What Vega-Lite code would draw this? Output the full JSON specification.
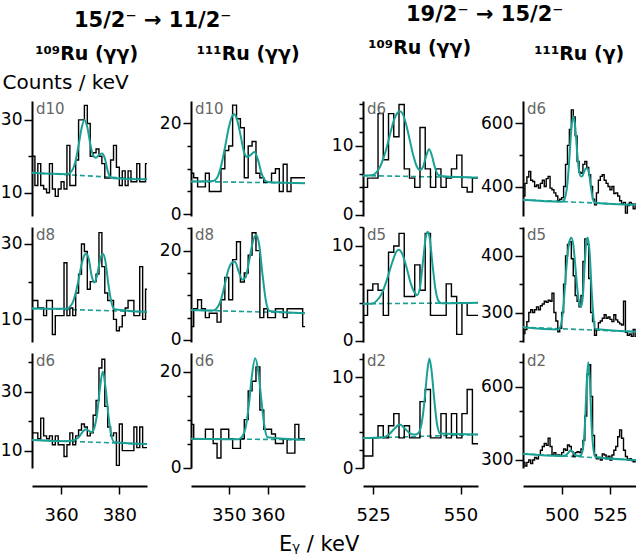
{
"$schema":"https://vega.github.io/schema/vega-lite/v6.json",
"padding":{"left":0,"top":4,"right":0,"bottom":2},
"config":{"font":"DejaVu Sans","view":{"stroke":null},
"axis":{"domainColor":"#000","domainWidth":2,"tickColor":"#000","tickWidth":1.5,"labelColor":"#000","labelFontSize":17,"labelFont":"DejaVu Sans","grid":false,"labelPadding":2,"labelOverlap":false},
"title":{"font":"DejaVu Sans","color":"#000"}},
"title":{"text":"Eᵧ / keV","orient":"bottom","anchor":"middle","fontSize":21,"fontWeight":"normal","offset":10},
"resolve":{"scale":{"x":"independent","y":"independent"}},
"spacing":26,
"datasets":{"d":[
{"p":"a1","s":"h","E":350,"v":20},{"p":"a1","s":"h","E":351,"v":12},{"p":"a1","s":"h","E":352,"v":18},{"p":"a1","s":"h","E":353,"v":12},{"p":"a1","s":"h","E":354,"v":11},{"p":"a1","s":"h","E":355,"v":10},{"p":"a1","s":"h","E":356,"v":18},{"p":"a1","s":"h","E":357,"v":11},{"p":"a1","s":"h","E":358,"v":9},{"p":"a1","s":"h","E":359,"v":11},{"p":"a1","s":"h","E":360,"v":13},{"p":"a1","s":"h","E":361,"v":11},{"p":"a1","s":"h","E":362,"v":23},{"p":"a1","s":"h","E":363,"v":12},{"p":"a1","s":"h","E":364,"v":12},{"p":"a1","s":"h","E":365,"v":19},{"p":"a1","s":"h","E":366,"v":30},{"p":"a1","s":"h","E":367,"v":30},{"p":"a1","s":"h","E":368,"v":34},{"p":"a1","s":"h","E":369,"v":29},{"p":"a1","s":"h","E":370,"v":20},{"p":"a1","s":"h","E":371,"v":21},{"p":"a1","s":"h","E":372,"v":22},{"p":"a1","s":"h","E":373,"v":20},{"p":"a1","s":"h","E":374,"v":18},{"p":"a1","s":"h","E":375,"v":14},{"p":"a1","s":"h","E":376,"v":14},{"p":"a1","s":"h","E":377,"v":19},{"p":"a1","s":"h","E":378,"v":23},{"p":"a1","s":"h","E":379,"v":17},{"p":"a1","s":"h","E":380,"v":12},{"p":"a1","s":"h","E":381,"v":16},{"p":"a1","s":"h","E":382,"v":12},{"p":"a1","s":"h","E":383,"v":16},{"p":"a1","s":"h","E":384,"v":13},{"p":"a1","s":"h","E":385,"v":13},{"p":"a1","s":"h","E":386,"v":18},{"p":"a1","s":"h","E":387,"v":13},{"p":"a1","s":"h","E":388,"v":13},{"p":"a1","s":"h","E":389,"v":18},{"p":"a1","s":"h","E":389.5,"v":18},
{"p":"a1","s":"f","E":350,"v":15.5},{"p":"a1","s":"f","E":362,"v":15.1},{"p":"a1","s":"f","E":363,"v":15.4},{"p":"a1","s":"f","E":364,"v":16.4},{"p":"a1","s":"f","E":365,"v":18.8},{"p":"a1","s":"f","E":366,"v":23},{"p":"a1","s":"f","E":367,"v":27.6},{"p":"a1","s":"f","E":368,"v":30},{"p":"a1","s":"f","E":369,"v":28},{"p":"a1","s":"f","E":370,"v":23.5},{"p":"a1","s":"f","E":371,"v":20.2},{"p":"a1","s":"f","E":372,"v":19.6},{"p":"a1","s":"f","E":373,"v":20.4},{"p":"a1","s":"f","E":374,"v":20.8},{"p":"a1","s":"f","E":375,"v":19.5},{"p":"a1","s":"f","E":376,"v":16},{"p":"a1","s":"f","E":377,"v":14.2},{"p":"a1","s":"f","E":378,"v":14},{"p":"a1","s":"f","E":389.5,"v":13.7},
{"p":"a1","s":"b","E":350,"v":15.5},{"p":"a1","s":"b","E":389.5,"v":13.7},
{"p":"a1","s":"l","E":350,"v":35.2,"t":"d10"},
{"p":"a2","s":"h","E":350,"v":15},{"p":"a2","s":"h","E":351,"v":15},{"p":"a2","s":"h","E":352,"v":13},{"p":"a2","s":"h","E":353,"v":13},{"p":"a2","s":"h","E":354,"v":11},{"p":"a2","s":"h","E":355,"v":15},{"p":"a2","s":"h","E":356,"v":15},{"p":"a2","s":"h","E":357,"v":6},{"p":"a2","s":"h","E":358,"v":11},{"p":"a2","s":"h","E":359,"v":11},{"p":"a2","s":"h","E":360,"v":11},{"p":"a2","s":"h","E":361,"v":25},{"p":"a2","s":"h","E":362,"v":11},{"p":"a2","s":"h","E":363,"v":13},{"p":"a2","s":"h","E":364,"v":11},{"p":"a2","s":"h","E":365,"v":17},{"p":"a2","s":"h","E":366,"v":22},{"p":"a2","s":"h","E":367,"v":30},{"p":"a2","s":"h","E":368,"v":28},{"p":"a2","s":"h","E":369,"v":18},{"p":"a2","s":"h","E":370,"v":20},{"p":"a2","s":"h","E":371,"v":20},{"p":"a2","s":"h","E":372,"v":22},{"p":"a2","s":"h","E":373,"v":33},{"p":"a2","s":"h","E":374,"v":24},{"p":"a2","s":"h","E":375,"v":17},{"p":"a2","s":"h","E":376,"v":15},{"p":"a2","s":"h","E":377,"v":15},{"p":"a2","s":"h","E":378,"v":10},{"p":"a2","s":"h","E":379,"v":7},{"p":"a2","s":"h","E":380,"v":8},{"p":"a2","s":"h","E":381,"v":11},{"p":"a2","s":"h","E":382,"v":13},{"p":"a2","s":"h","E":383,"v":15},{"p":"a2","s":"h","E":384,"v":15},{"p":"a2","s":"h","E":385,"v":11},{"p":"a2","s":"h","E":386,"v":11},{"p":"a2","s":"h","E":387,"v":24},{"p":"a2","s":"h","E":388,"v":10},{"p":"a2","s":"h","E":389,"v":18},{"p":"a2","s":"h","E":389.5,"v":18},
{"p":"a2","s":"f","E":350,"v":12.9},{"p":"a2","s":"f","E":362,"v":12.8},{"p":"a2","s":"f","E":363,"v":13.3},{"p":"a2","s":"f","E":364,"v":14.5},{"p":"a2","s":"f","E":365,"v":17},{"p":"a2","s":"f","E":366,"v":20.5},{"p":"a2","s":"f","E":367,"v":24.5},{"p":"a2","s":"f","E":368,"v":27},{"p":"a2","s":"f","E":368.7,"v":27.5},{"p":"a2","s":"f","E":369.5,"v":26},{"p":"a2","s":"f","E":370.5,"v":21.5},{"p":"a2","s":"f","E":371.4,"v":19.8},{"p":"a2","s":"f","E":372.3,"v":21.5},{"p":"a2","s":"f","E":373.3,"v":25.5},{"p":"a2","s":"f","E":374.3,"v":27.5},{"p":"a2","s":"f","E":375.2,"v":25.5},{"p":"a2","s":"f","E":376.2,"v":19.5},{"p":"a2","s":"f","E":377.2,"v":14.8},{"p":"a2","s":"f","E":378.3,"v":12.7},{"p":"a2","s":"f","E":389.5,"v":12},
{"p":"a2","s":"b","E":350,"v":12.9},{"p":"a2","s":"b","E":389.5,"v":12},
{"p":"a2","s":"l","E":350,"v":34.5,"t":"d8"},
{"p":"a3","s":"h","E":350,"v":16},{"p":"a3","s":"h","E":351,"v":16},{"p":"a3","s":"h","E":352,"v":14},{"p":"a3","s":"h","E":353,"v":21},{"p":"a3","s":"h","E":354,"v":15},{"p":"a3","s":"h","E":355,"v":14},{"p":"a3","s":"h","E":356,"v":15},{"p":"a3","s":"h","E":357,"v":12},{"p":"a3","s":"h","E":358,"v":15},{"p":"a3","s":"h","E":359,"v":12},{"p":"a3","s":"h","E":360,"v":12},{"p":"a3","s":"h","E":361,"v":8},{"p":"a3","s":"h","E":362,"v":12},{"p":"a3","s":"h","E":363,"v":16},{"p":"a3","s":"h","E":364,"v":12},{"p":"a3","s":"h","E":365,"v":15},{"p":"a3","s":"h","E":366,"v":17},{"p":"a3","s":"h","E":367,"v":19},{"p":"a3","s":"h","E":368,"v":18},{"p":"a3","s":"h","E":369,"v":15},{"p":"a3","s":"h","E":370,"v":16},{"p":"a3","s":"h","E":371,"v":22},{"p":"a3","s":"h","E":372,"v":27},{"p":"a3","s":"h","E":373,"v":38},{"p":"a3","s":"h","E":374,"v":41},{"p":"a3","s":"h","E":375,"v":25},{"p":"a3","s":"h","E":376,"v":18},{"p":"a3","s":"h","E":377,"v":15},{"p":"a3","s":"h","E":378,"v":16},{"p":"a3","s":"h","E":379,"v":5},{"p":"a3","s":"h","E":380,"v":19},{"p":"a3","s":"h","E":381,"v":10},{"p":"a3","s":"h","E":382,"v":10},{"p":"a3","s":"h","E":383,"v":10},{"p":"a3","s":"h","E":384,"v":10},{"p":"a3","s":"h","E":385,"v":18},{"p":"a3","s":"h","E":386,"v":11},{"p":"a3","s":"h","E":387,"v":18},{"p":"a3","s":"h","E":388,"v":11},{"p":"a3","s":"h","E":389,"v":11},{"p":"a3","s":"h","E":389.5,"v":11},
{"p":"a3","s":"f","E":350,"v":13.6},{"p":"a3","s":"f","E":362,"v":13.2},{"p":"a3","s":"f","E":364,"v":13.4},{"p":"a3","s":"f","E":366,"v":14.5},{"p":"a3","s":"f","E":367.5,"v":16.5},{"p":"a3","s":"f","E":368.6,"v":17.2},{"p":"a3","s":"f","E":369.6,"v":16.7},{"p":"a3","s":"f","E":370.6,"v":16.3},{"p":"a3","s":"f","E":371.5,"v":18},{"p":"a3","s":"f","E":372.3,"v":22},{"p":"a3","s":"f","E":373.2,"v":30},{"p":"a3","s":"f","E":374.3,"v":36.8},{"p":"a3","s":"f","E":375.3,"v":31},{"p":"a3","s":"f","E":376.3,"v":21.5},{"p":"a3","s":"f","E":377.3,"v":15},{"p":"a3","s":"f","E":378.3,"v":12.8},{"p":"a3","s":"f","E":389.5,"v":12.2},
{"p":"a3","s":"b","E":350,"v":13.6},{"p":"a3","s":"b","E":389.5,"v":12.2},
{"p":"a3","s":"l","E":350,"v":43.1,"t":"d6"},
{"p":"b1","s":"h","E":340,"v":9},{"p":"b1","s":"h","E":341,"v":8},{"p":"b1","s":"h","E":342,"v":6},{"p":"b1","s":"h","E":343,"v":6},{"p":"b1","s":"h","E":344,"v":9},{"p":"b1","s":"h","E":345,"v":5},{"p":"b1","s":"h","E":346,"v":5},{"p":"b1","s":"h","E":347,"v":5},{"p":"b1","s":"h","E":348,"v":10},{"p":"b1","s":"h","E":349,"v":14},{"p":"b1","s":"h","E":350,"v":15},{"p":"b1","s":"h","E":351,"v":24},{"p":"b1","s":"h","E":352,"v":21},{"p":"b1","s":"h","E":353,"v":19},{"p":"b1","s":"h","E":354,"v":8},{"p":"b1","s":"h","E":355,"v":15},{"p":"b1","s":"h","E":356,"v":16},{"p":"b1","s":"h","E":357,"v":9},{"p":"b1","s":"h","E":358,"v":8},{"p":"b1","s":"h","E":359,"v":7},{"p":"b1","s":"h","E":360,"v":7},{"p":"b1","s":"h","E":361,"v":9},{"p":"b1","s":"h","E":362,"v":10},{"p":"b1","s":"h","E":363,"v":5},{"p":"b1","s":"h","E":364,"v":11},{"p":"b1","s":"h","E":365,"v":5},{"p":"b1","s":"h","E":366,"v":8},{"p":"b1","s":"h","E":367,"v":8},{"p":"b1","s":"h","E":368,"v":8},{"p":"b1","s":"h","E":369,"v":8},{"p":"b1","s":"h","E":369.6,"v":8},
{"p":"b1","s":"f","E":340.3,"v":7.2},{"p":"b1","s":"f","E":346,"v":7.3},{"p":"b1","s":"f","E":347,"v":8},{"p":"b1","s":"f","E":348,"v":10.5},{"p":"b1","s":"f","E":349,"v":14.5},{"p":"b1","s":"f","E":350,"v":19},{"p":"b1","s":"f","E":351,"v":21.8},{"p":"b1","s":"f","E":351.4,"v":22},{"p":"b1","s":"f","E":352,"v":21.2},{"p":"b1","s":"f","E":353,"v":17.5},{"p":"b1","s":"f","E":354,"v":13.5},{"p":"b1","s":"f","E":354.7,"v":12.6},{"p":"b1","s":"f","E":355.6,"v":13},{"p":"b1","s":"f","E":356.6,"v":13.7},{"p":"b1","s":"f","E":357.5,"v":12},{"p":"b1","s":"f","E":358.5,"v":8.8},{"p":"b1","s":"f","E":359.5,"v":7.3},{"p":"b1","s":"f","E":360.5,"v":7},{"p":"b1","s":"f","E":369.6,"v":6.8},
{"p":"b1","s":"b","E":340.3,"v":7.2},{"p":"b1","s":"b","E":369.6,"v":6.8},
{"p":"b1","s":"l","E":340.3,"v":24.9,"t":"d10"},
{"p":"b2","s":"h","E":340,"v":3},{"p":"b2","s":"h","E":341,"v":7},{"p":"b2","s":"h","E":342,"v":9},{"p":"b2","s":"h","E":343,"v":7},{"p":"b2","s":"h","E":344,"v":5},{"p":"b2","s":"h","E":345,"v":6},{"p":"b2","s":"h","E":346,"v":6},{"p":"b2","s":"h","E":347,"v":4},{"p":"b2","s":"h","E":348,"v":9},{"p":"b2","s":"h","E":349,"v":14},{"p":"b2","s":"h","E":350,"v":9},{"p":"b2","s":"h","E":351,"v":18},{"p":"b2","s":"h","E":352,"v":22},{"p":"b2","s":"h","E":353,"v":13},{"p":"b2","s":"h","E":354,"v":15},{"p":"b2","s":"h","E":355,"v":19},{"p":"b2","s":"h","E":356,"v":24},{"p":"b2","s":"h","E":357,"v":20},{"p":"b2","s":"h","E":358,"v":5},{"p":"b2","s":"h","E":359,"v":7},{"p":"b2","s":"h","E":360,"v":5},{"p":"b2","s":"h","E":361,"v":5},{"p":"b2","s":"h","E":362,"v":7},{"p":"b2","s":"h","E":363,"v":7},{"p":"b2","s":"h","E":364,"v":5},{"p":"b2","s":"h","E":365,"v":7},{"p":"b2","s":"h","E":366,"v":7},{"p":"b2","s":"h","E":367,"v":7},{"p":"b2","s":"h","E":368,"v":7},{"p":"b2","s":"h","E":369,"v":3},{"p":"b2","s":"h","E":369.6,"v":3},
{"p":"b2","s":"f","E":340.3,"v":6.7},{"p":"b2","s":"f","E":346,"v":6.6},{"p":"b2","s":"f","E":347,"v":7.2},{"p":"b2","s":"f","E":348,"v":9},{"p":"b2","s":"f","E":349,"v":12.5},{"p":"b2","s":"f","E":350,"v":16},{"p":"b2","s":"f","E":351,"v":17.4},{"p":"b2","s":"f","E":351.6,"v":17.5},{"p":"b2","s":"f","E":352.5,"v":15.5},{"p":"b2","s":"f","E":353.5,"v":13.5},{"p":"b2","s":"f","E":354.3,"v":14},{"p":"b2","s":"f","E":355.2,"v":17.5},{"p":"b2","s":"f","E":356.2,"v":22},{"p":"b2","s":"f","E":357,"v":23.5},{"p":"b2","s":"f","E":357.8,"v":21.5},{"p":"b2","s":"f","E":358.7,"v":14.5},{"p":"b2","s":"f","E":359.6,"v":8.5},{"p":"b2","s":"f","E":360.5,"v":6.5},{"p":"b2","s":"f","E":369.6,"v":6},
{"p":"b2","s":"b","E":340.3,"v":6.7},{"p":"b2","s":"b","E":369.6,"v":6},
{"p":"b2","s":"l","E":340.3,"v":25.3,"t":"d8"},
{"p":"b3","s":"h","E":340,"v":9},{"p":"b3","s":"h","E":341,"v":6},{"p":"b3","s":"h","E":342,"v":6},{"p":"b3","s":"h","E":343,"v":6},{"p":"b3","s":"h","E":344,"v":8},{"p":"b3","s":"h","E":345,"v":8},{"p":"b3","s":"h","E":346,"v":5},{"p":"b3","s":"h","E":347,"v":2},{"p":"b3","s":"h","E":348,"v":8},{"p":"b3","s":"h","E":349,"v":8},{"p":"b3","s":"h","E":350,"v":6},{"p":"b3","s":"h","E":351,"v":4},{"p":"b3","s":"h","E":352,"v":4},{"p":"b3","s":"h","E":353,"v":6},{"p":"b3","s":"h","E":354,"v":10},{"p":"b3","s":"h","E":355,"v":16},{"p":"b3","s":"h","E":356,"v":18},{"p":"b3","s":"h","E":357,"v":21},{"p":"b3","s":"h","E":358,"v":12},{"p":"b3","s":"h","E":359,"v":8},{"p":"b3","s":"h","E":360,"v":8},{"p":"b3","s":"h","E":361,"v":7},{"p":"b3","s":"h","E":362,"v":5},{"p":"b3","s":"h","E":363,"v":5},{"p":"b3","s":"h","E":364,"v":6},{"p":"b3","s":"h","E":365,"v":3},{"p":"b3","s":"h","E":366,"v":3},{"p":"b3","s":"h","E":367,"v":9},{"p":"b3","s":"h","E":368,"v":6},{"p":"b3","s":"h","E":369,"v":6},{"p":"b3","s":"h","E":369.6,"v":6},
{"p":"b3","s":"f","E":340.3,"v":6},{"p":"b3","s":"f","E":352.5,"v":5.9},{"p":"b3","s":"f","E":353.5,"v":6.5},{"p":"b3","s":"f","E":354.5,"v":9},{"p":"b3","s":"f","E":355.3,"v":14},{"p":"b3","s":"f","E":356,"v":19.5},{"p":"b3","s":"f","E":356.8,"v":22.8},{"p":"b3","s":"f","E":357.6,"v":20},{"p":"b3","s":"f","E":358.4,"v":14},{"p":"b3","s":"f","E":359.2,"v":8.5},{"p":"b3","s":"f","E":360,"v":6.3},{"p":"b3","s":"f","E":369.6,"v":5.8},
{"p":"b3","s":"b","E":340.3,"v":6},{"p":"b3","s":"b","E":369.6,"v":5.8},
{"p":"b3","s":"l","E":340.3,"v":23.9,"t":"d6"},
{"p":"c1","s":"h","E":521.9,"v":4},{"p":"c1","s":"h","E":523.4,"v":5.33},{"p":"c1","s":"h","E":524.9,"v":5.33},{"p":"c1","s":"h","E":526.4,"v":14.67},{"p":"c1","s":"h","E":527.9,"v":8},{"p":"c1","s":"h","E":529.4,"v":14.67},{"p":"c1","s":"h","E":530.9,"v":11.33},{"p":"c1","s":"h","E":532.4,"v":16},{"p":"c1","s":"h","E":533.9,"v":6.67},{"p":"c1","s":"h","E":535.4,"v":5.33},{"p":"c1","s":"h","E":536.9,"v":4},{"p":"c1","s":"h","E":538.4,"v":12.67},{"p":"c1","s":"h","E":539.9,"v":6.67},{"p":"c1","s":"h","E":541.4,"v":4},{"p":"c1","s":"h","E":542.9,"v":6.67},{"p":"c1","s":"h","E":544.4,"v":4},{"p":"c1","s":"h","E":545.9,"v":5.33},{"p":"c1","s":"h","E":547.4,"v":6.67},{"p":"c1","s":"h","E":548.9,"v":8.67},{"p":"c1","s":"h","E":550.4,"v":4},{"p":"c1","s":"h","E":551.9,"v":3.33},{"p":"c1","s":"h","E":553.4,"v":5.33},{"p":"c1","s":"h","E":555,"v":5.33},
{"p":"c1","s":"f","E":522.1,"v":5.7},{"p":"c1","s":"f","E":525,"v":5.8},{"p":"c1","s":"f","E":526,"v":6.2},{"p":"c1","s":"f","E":527,"v":7},{"p":"c1","s":"f","E":528,"v":8.3},{"p":"c1","s":"f","E":529,"v":10},{"p":"c1","s":"f","E":530,"v":12},{"p":"c1","s":"f","E":531,"v":13.8},{"p":"c1","s":"f","E":532,"v":14.8},{"p":"c1","s":"f","E":532.6,"v":15},{"p":"c1","s":"f","E":533.5,"v":14.6},{"p":"c1","s":"f","E":534.5,"v":13},{"p":"c1","s":"f","E":535.5,"v":10.8},{"p":"c1","s":"f","E":536.5,"v":8.6},{"p":"c1","s":"f","E":537.5,"v":7},{"p":"c1","s":"f","E":538.4,"v":6.5},{"p":"c1","s":"f","E":539.3,"v":7},{"p":"c1","s":"f","E":540.2,"v":8.6},{"p":"c1","s":"f","E":541,"v":9.5},{"p":"c1","s":"f","E":541.8,"v":8.6},{"p":"c1","s":"f","E":542.6,"v":7},{"p":"c1","s":"f","E":543.6,"v":5.8},{"p":"c1","s":"f","E":545,"v":5.6},{"p":"c1","s":"f","E":555,"v":5.4},
{"p":"c1","s":"b","E":522.1,"v":5.7},{"p":"c1","s":"b","E":555,"v":5.4},
{"p":"c1","s":"l","E":522.1,"v":16.5,"t":"d6"},
{"p":"c2","s":"h","E":521.9,"v":2.67},{"p":"c2","s":"h","E":523.4,"v":5.33},{"p":"c2","s":"h","E":524.9,"v":6},{"p":"c2","s":"h","E":526.4,"v":5.33},{"p":"c2","s":"h","E":527.9,"v":2.67},{"p":"c2","s":"h","E":529.4,"v":9.33},{"p":"c2","s":"h","E":530.9,"v":10},{"p":"c2","s":"h","E":532.4,"v":11.33},{"p":"c2","s":"h","E":533.9,"v":4.67},{"p":"c2","s":"h","E":535.4,"v":4.67},{"p":"c2","s":"h","E":536.9,"v":8},{"p":"c2","s":"h","E":538.4,"v":5.33},{"p":"c2","s":"h","E":539.9,"v":11.33},{"p":"c2","s":"h","E":541.4,"v":2.67},{"p":"c2","s":"h","E":542.9,"v":2.67},{"p":"c2","s":"h","E":544.4,"v":2.67},{"p":"c2","s":"h","E":545.9,"v":6},{"p":"c2","s":"h","E":547.4,"v":4.67},{"p":"c2","s":"h","E":548.9,"v":0.67},{"p":"c2","s":"h","E":550.4,"v":4},{"p":"c2","s":"h","E":551.9,"v":2.67},{"p":"c2","s":"h","E":553.4,"v":2.67},{"p":"c2","s":"h","E":555,"v":2.67},
{"p":"c2","s":"f","E":522.1,"v":3.9},{"p":"c2","s":"f","E":524.5,"v":3.9},{"p":"c2","s":"f","E":526,"v":4.2},{"p":"c2","s":"f","E":527.5,"v":5},{"p":"c2","s":"f","E":529,"v":6.5},{"p":"c2","s":"f","E":530.5,"v":8.3},{"p":"c2","s":"f","E":531.5,"v":9.3},{"p":"c2","s":"f","E":532.3,"v":9.6},{"p":"c2","s":"f","E":533.3,"v":9.2},{"p":"c2","s":"f","E":534.5,"v":7.8},{"p":"c2","s":"f","E":535.8,"v":6},{"p":"c2","s":"f","E":537,"v":5},{"p":"c2","s":"f","E":537.6,"v":4.8},{"p":"c2","s":"f","E":538.4,"v":5.6},{"p":"c2","s":"f","E":539.3,"v":8.5},{"p":"c2","s":"f","E":540.1,"v":11},{"p":"c2","s":"f","E":540.6,"v":11.5},{"p":"c2","s":"f","E":541.2,"v":10.8},{"p":"c2","s":"f","E":542,"v":8},{"p":"c2","s":"f","E":542.8,"v":5.5},{"p":"c2","s":"f","E":543.7,"v":4.2},{"p":"c2","s":"f","E":544.6,"v":3.95},{"p":"c2","s":"f","E":555,"v":4},
{"p":"c2","s":"b","E":522.1,"v":3.9},{"p":"c2","s":"b","E":555,"v":4},
{"p":"c2","s":"l","E":522.1,"v":12,"t":"d5"},
{"p":"c3","s":"h","E":521.9,"v":1.33},{"p":"c3","s":"h","E":523.4,"v":1.33},{"p":"c3","s":"h","E":524.9,"v":3.33},{"p":"c3","s":"h","E":526.4,"v":4.67},{"p":"c3","s":"h","E":527.9,"v":3.33},{"p":"c3","s":"h","E":529.4,"v":4.67},{"p":"c3","s":"h","E":530.9,"v":6},{"p":"c3","s":"h","E":532.4,"v":3.33},{"p":"c3","s":"h","E":533.9,"v":4.67},{"p":"c3","s":"h","E":535.4,"v":3.33},{"p":"c3","s":"h","E":536.9,"v":3.33},{"p":"c3","s":"h","E":538.4,"v":7.33},{"p":"c3","s":"h","E":539.9,"v":8.67},{"p":"c3","s":"h","E":541.4,"v":3.33},{"p":"c3","s":"h","E":542.9,"v":3.33},{"p":"c3","s":"h","E":544.4,"v":6},{"p":"c3","s":"h","E":545.9,"v":3.33},{"p":"c3","s":"h","E":547.4,"v":6},{"p":"c3","s":"h","E":548.9,"v":3.33},{"p":"c3","s":"h","E":550.4,"v":6},{"p":"c3","s":"h","E":551.9,"v":8.67},{"p":"c3","s":"h","E":553.4,"v":2.67},{"p":"c3","s":"h","E":555,"v":2.67},
{"p":"c3","s":"f","E":522.1,"v":3.3},{"p":"c3","s":"f","E":528,"v":3.4},{"p":"c3","s":"f","E":529.5,"v":3.7},{"p":"c3","s":"f","E":531,"v":4.3},{"p":"c3","s":"f","E":532.6,"v":4.8},{"p":"c3","s":"f","E":534.2,"v":4.3},{"p":"c3","s":"f","E":535.7,"v":3.8},{"p":"c3","s":"f","E":537.2,"v":3.7},{"p":"c3","s":"f","E":538.2,"v":4},{"p":"c3","s":"f","E":539,"v":5.2},{"p":"c3","s":"f","E":539.8,"v":7.8},{"p":"c3","s":"f","E":540.5,"v":10.7},{"p":"c3","s":"f","E":541.1,"v":12.1},{"p":"c3","s":"f","E":541.7,"v":10.8},{"p":"c3","s":"f","E":542.5,"v":7.5},{"p":"c3","s":"f","E":543.3,"v":4.8},{"p":"c3","s":"f","E":544.2,"v":3.8},{"p":"c3","s":"f","E":555,"v":3.7},
{"p":"c3","s":"b","E":522.1,"v":3.3},{"p":"c3","s":"b","E":555,"v":3.7},
{"p":"c3","s":"l","E":522.1,"v":12.7,"t":"d2"},
{"p":"d1","s":"h","E":480,"v":370},{"p":"d1","s":"h","E":481,"v":410},{"p":"d1","s":"h","E":482,"v":430},{"p":"d1","s":"h","E":483,"v":448},{"p":"d1","s":"h","E":484,"v":420},{"p":"d1","s":"h","E":485,"v":416},{"p":"d1","s":"h","E":486,"v":400},{"p":"d1","s":"h","E":487,"v":405},{"p":"d1","s":"h","E":488,"v":395},{"p":"d1","s":"h","E":489,"v":410},{"p":"d1","s":"h","E":490,"v":420},{"p":"d1","s":"h","E":491,"v":400},{"p":"d1","s":"h","E":492,"v":425},{"p":"d1","s":"h","E":493,"v":432},{"p":"d1","s":"h","E":494,"v":395},{"p":"d1","s":"h","E":495,"v":390},{"p":"d1","s":"h","E":496,"v":380},{"p":"d1","s":"h","E":497,"v":370},{"p":"d1","s":"h","E":498,"v":355},{"p":"d1","s":"h","E":499,"v":360},{"p":"d1","s":"h","E":500,"v":365},{"p":"d1","s":"h","E":501,"v":400},{"p":"d1","s":"h","E":502,"v":470},{"p":"d1","s":"h","E":503,"v":530},{"p":"d1","s":"h","E":504,"v":580},{"p":"d1","s":"h","E":505,"v":642},{"p":"d1","s":"h","E":506,"v":620},{"p":"d1","s":"h","E":507,"v":560},{"p":"d1","s":"h","E":508,"v":479},{"p":"d1","s":"h","E":509,"v":445},{"p":"d1","s":"h","E":510,"v":442},{"p":"d1","s":"h","E":511,"v":470},{"p":"d1","s":"h","E":512,"v":479},{"p":"d1","s":"h","E":513,"v":460},{"p":"d1","s":"h","E":514,"v":437},{"p":"d1","s":"h","E":515,"v":400},{"p":"d1","s":"h","E":516,"v":360},{"p":"d1","s":"h","E":517,"v":342},{"p":"d1","s":"h","E":518,"v":380},{"p":"d1","s":"h","E":519,"v":420},{"p":"d1","s":"h","E":520,"v":432},{"p":"d1","s":"h","E":521,"v":437},{"p":"d1","s":"h","E":522,"v":420},{"p":"d1","s":"h","E":523,"v":410},{"p":"d1","s":"h","E":524,"v":400},{"p":"d1","s":"h","E":525,"v":390},{"p":"d1","s":"h","E":526,"v":400},{"p":"d1","s":"h","E":527,"v":378},{"p":"d1","s":"h","E":528,"v":380},{"p":"d1","s":"h","E":529,"v":370},{"p":"d1","s":"h","E":530,"v":355},{"p":"d1","s":"h","E":531,"v":345},{"p":"d1","s":"h","E":532,"v":350},{"p":"d1","s":"h","E":533,"v":316},{"p":"d1","s":"h","E":534,"v":340},{"p":"d1","s":"h","E":535,"v":350},{"p":"d1","s":"h","E":536,"v":345},{"p":"d1","s":"h","E":537,"v":330},{"p":"d1","s":"h","E":538,"v":345},{"p":"d1","s":"h","E":539,"v":340},{"p":"d1","s":"h","E":539.5,"v":340},
{"p":"d1","s":"f","E":480,"v":358},{"p":"d1","s":"f","E":500,"v":352},{"p":"d1","s":"f","E":501,"v":355},{"p":"d1","s":"f","E":502,"v":370},{"p":"d1","s":"f","E":503,"v":410},{"p":"d1","s":"f","E":504,"v":490},{"p":"d1","s":"f","E":505,"v":580},{"p":"d1","s":"f","E":506,"v":621},{"p":"d1","s":"f","E":507,"v":590},{"p":"d1","s":"f","E":508,"v":510},{"p":"d1","s":"f","E":509,"v":450},{"p":"d1","s":"f","E":510,"v":432},{"p":"d1","s":"f","E":510.7,"v":433},{"p":"d1","s":"f","E":511.5,"v":445},{"p":"d1","s":"f","E":512.5,"v":457},{"p":"d1","s":"f","E":513.3,"v":458},{"p":"d1","s":"f","E":514.2,"v":440},{"p":"d1","s":"f","E":515.2,"v":395},{"p":"d1","s":"f","E":516.2,"v":360},{"p":"d1","s":"f","E":517.2,"v":349},{"p":"d1","s":"f","E":539.5,"v":342},
{"p":"d1","s":"b","E":480,"v":358},{"p":"d1","s":"b","E":539.5,"v":342},
{"p":"d1","s":"l","E":480,"v":670,"t":"d6"},
{"p":"d2","s":"h","E":480,"v":263},{"p":"d2","s":"h","E":481,"v":270},{"p":"d2","s":"h","E":482,"v":284},{"p":"d2","s":"h","E":483,"v":300},{"p":"d2","s":"h","E":484,"v":305},{"p":"d2","s":"h","E":485,"v":300},{"p":"d2","s":"h","E":486,"v":305},{"p":"d2","s":"h","E":487,"v":310},{"p":"d2","s":"h","E":488,"v":305},{"p":"d2","s":"h","E":489,"v":312},{"p":"d2","s":"h","E":490,"v":315},{"p":"d2","s":"h","E":491,"v":320},{"p":"d2","s":"h","E":492,"v":318},{"p":"d2","s":"h","E":493,"v":322},{"p":"d2","s":"h","E":494,"v":320},{"p":"d2","s":"h","E":495,"v":334},{"p":"d2","s":"h","E":496,"v":300},{"p":"d2","s":"h","E":497,"v":285},{"p":"d2","s":"h","E":498,"v":266},{"p":"d2","s":"h","E":499,"v":272},{"p":"d2","s":"h","E":500,"v":300},{"p":"d2","s":"h","E":501,"v":350},{"p":"d2","s":"h","E":502,"v":400},{"p":"d2","s":"h","E":503,"v":420},{"p":"d2","s":"h","E":504,"v":425},{"p":"d2","s":"h","E":505,"v":395},{"p":"d2","s":"h","E":506,"v":365},{"p":"d2","s":"h","E":507,"v":330},{"p":"d2","s":"h","E":508,"v":320},{"p":"d2","s":"h","E":509,"v":310},{"p":"d2","s":"h","E":510,"v":330},{"p":"d2","s":"h","E":511,"v":390},{"p":"d2","s":"h","E":512,"v":430},{"p":"d2","s":"h","E":513,"v":420},{"p":"d2","s":"h","E":514,"v":360},{"p":"d2","s":"h","E":515,"v":300},{"p":"d2","s":"h","E":516,"v":284},{"p":"d2","s":"h","E":517,"v":260},{"p":"d2","s":"h","E":518,"v":270},{"p":"d2","s":"h","E":519,"v":282},{"p":"d2","s":"h","E":520,"v":285},{"p":"d2","s":"h","E":521,"v":290},{"p":"d2","s":"h","E":522,"v":296},{"p":"d2","s":"h","E":523,"v":290},{"p":"d2","s":"h","E":524,"v":292},{"p":"d2","s":"h","E":525,"v":288},{"p":"d2","s":"h","E":526,"v":284},{"p":"d2","s":"h","E":527,"v":296},{"p":"d2","s":"h","E":528,"v":287},{"p":"d2","s":"h","E":529,"v":283},{"p":"d2","s":"h","E":530,"v":280},{"p":"d2","s":"h","E":531,"v":278},{"p":"d2","s":"h","E":532,"v":320},{"p":"d2","s":"h","E":533,"v":265},{"p":"d2","s":"h","E":534,"v":260},{"p":"d2","s":"h","E":535,"v":262},{"p":"d2","s":"h","E":536,"v":258},{"p":"d2","s":"h","E":537,"v":270},{"p":"d2","s":"h","E":538,"v":258},{"p":"d2","s":"h","E":539,"v":262},{"p":"d2","s":"h","E":539.5,"v":262},
{"p":"d2","s":"f","E":480,"v":274},{"p":"d2","s":"f","E":498,"v":270},{"p":"d2","s":"f","E":499,"v":272},{"p":"d2","s":"f","E":500,"v":285},{"p":"d2","s":"f","E":501,"v":315},{"p":"d2","s":"f","E":502,"v":360},{"p":"d2","s":"f","E":503,"v":400},{"p":"d2","s":"f","E":504,"v":425},{"p":"d2","s":"f","E":505,"v":432},{"p":"d2","s":"f","E":506,"v":420},{"p":"d2","s":"f","E":507,"v":385},{"p":"d2","s":"f","E":508,"v":345},{"p":"d2","s":"f","E":509,"v":318},{"p":"d2","s":"f","E":510,"v":310},{"p":"d2","s":"f","E":511,"v":330},{"p":"d2","s":"f","E":512,"v":390},{"p":"d2","s":"f","E":513,"v":430},{"p":"d2","s":"f","E":513.5,"v":432},{"p":"d2","s":"f","E":514.5,"v":405},{"p":"d2","s":"f","E":515.5,"v":340},{"p":"d2","s":"f","E":516.5,"v":290},{"p":"d2","s":"f","E":517.5,"v":271},{"p":"d2","s":"f","E":539.5,"v":266},
{"p":"d2","s":"b","E":480,"v":274},{"p":"d2","s":"b","E":539.5,"v":266},
{"p":"d2","s":"l","E":480,"v":451,"t":"d5"},
{"p":"d3","s":"h","E":480,"v":290},{"p":"d3","s":"h","E":481,"v":275},{"p":"d3","s":"h","E":482,"v":290},{"p":"d3","s":"h","E":483,"v":300},{"p":"d3","s":"h","E":484,"v":285},{"p":"d3","s":"h","E":485,"v":300},{"p":"d3","s":"h","E":486,"v":310},{"p":"d3","s":"h","E":487,"v":305},{"p":"d3","s":"h","E":488,"v":320},{"p":"d3","s":"h","E":489,"v":340},{"p":"d3","s":"h","E":490,"v":355},{"p":"d3","s":"h","E":491,"v":368},{"p":"d3","s":"h","E":492,"v":360},{"p":"d3","s":"h","E":493,"v":389},{"p":"d3","s":"h","E":494,"v":355},{"p":"d3","s":"h","E":495,"v":320},{"p":"d3","s":"h","E":496,"v":330},{"p":"d3","s":"h","E":497,"v":318},{"p":"d3","s":"h","E":498,"v":320},{"p":"d3","s":"h","E":499,"v":318},{"p":"d3","s":"h","E":500,"v":330},{"p":"d3","s":"h","E":501,"v":345},{"p":"d3","s":"h","E":502,"v":340},{"p":"d3","s":"h","E":503,"v":361},{"p":"d3","s":"h","E":504,"v":355},{"p":"d3","s":"h","E":505,"v":334},{"p":"d3","s":"h","E":506,"v":314},{"p":"d3","s":"h","E":507,"v":330},{"p":"d3","s":"h","E":508,"v":334},{"p":"d3","s":"h","E":509,"v":330},{"p":"d3","s":"h","E":510,"v":345},{"p":"d3","s":"h","E":511,"v":380},{"p":"d3","s":"h","E":512,"v":480},{"p":"d3","s":"h","E":513,"v":650},{"p":"d3","s":"h","E":514,"v":690},{"p":"d3","s":"h","E":515,"v":560},{"p":"d3","s":"h","E":516,"v":400},{"p":"d3","s":"h","E":517,"v":320},{"p":"d3","s":"h","E":518,"v":305},{"p":"d3","s":"h","E":519,"v":310},{"p":"d3","s":"h","E":520,"v":300},{"p":"d3","s":"h","E":521,"v":325},{"p":"d3","s":"h","E":522,"v":320},{"p":"d3","s":"h","E":523,"v":305},{"p":"d3","s":"h","E":524,"v":315},{"p":"d3","s":"h","E":525,"v":300},{"p":"d3","s":"h","E":526,"v":320},{"p":"d3","s":"h","E":527,"v":340},{"p":"d3","s":"h","E":528,"v":355},{"p":"d3","s":"h","E":529,"v":395},{"p":"d3","s":"h","E":530,"v":423},{"p":"d3","s":"h","E":531,"v":389},{"p":"d3","s":"h","E":532,"v":340},{"p":"d3","s":"h","E":533,"v":314},{"p":"d3","s":"h","E":534,"v":300},{"p":"d3","s":"h","E":535,"v":305},{"p":"d3","s":"h","E":536,"v":298},{"p":"d3","s":"h","E":537,"v":292},{"p":"d3","s":"h","E":538,"v":300},{"p":"d3","s":"h","E":539,"v":295},{"p":"d3","s":"h","E":539.5,"v":295},
{"p":"d3","s":"f","E":480,"v":325},{"p":"d3","s":"f","E":500,"v":316},{"p":"d3","s":"f","E":502,"v":318},{"p":"d3","s":"f","E":503.5,"v":330},{"p":"d3","s":"f","E":504.7,"v":340},{"p":"d3","s":"f","E":506,"v":330},{"p":"d3","s":"f","E":507.5,"v":318},{"p":"d3","s":"f","E":509,"v":316},{"p":"d3","s":"f","E":510,"v":320},{"p":"d3","s":"f","E":511,"v":345},{"p":"d3","s":"f","E":512,"v":440},{"p":"d3","s":"f","E":513,"v":620},{"p":"d3","s":"f","E":513.8,"v":700},{"p":"d3","s":"f","E":514.6,"v":620},{"p":"d3","s":"f","E":515.5,"v":440},{"p":"d3","s":"f","E":516.5,"v":340},{"p":"d3","s":"f","E":517.5,"v":312},{"p":"d3","s":"f","E":518.5,"v":310},{"p":"d3","s":"f","E":539.5,"v":300},
{"p":"d3","s":"b","E":480,"v":325},{"p":"d3","s":"b","E":539.5,"v":300},
{"p":"d3","s":"l","E":480,"v":738,"t":"d2"}
]},
"hconcat":[
{"title":{"text":"15/2⁻ → 11/2⁻","fontSize":21,"fontWeight":"bold","anchor":"middle","offset":14},
 "spacing":12,"resolve":{"scale":{"x":"independent","y":"independent"}},
 "hconcat":[
 {"title":{"text":"¹⁰⁹Ru (γγ)","fontSize":19,"fontWeight":"bold","anchor":"middle","offset":8,"dx":13},
  "bounds":"flush","spacing":11,"resolve":{"scale":{"x":"independent","y":"independent"}},
  "vconcat":[
  {"width":115,"height":115,"data":{"name":"d"},"transform":[{"filter":"datum.p=='a1'"}],
   "encoding":{"x":{"field":"E","type":"quantitative","scale":{"domain":[350,389.5],"nice":false,"zero":false},"axis":null},
   "y":{"field":"v","type":"quantitative","scale":{"domain":[3.6,35.2],"nice":false,"zero":false},"axis":{"values":[10,20,30],"labelExpr":"indexof([10,30],datum.value)>=0?datum.label:''","tickSize":{"condition":{"test":"indexof([10,30],datum.value)>=0","value":8},"value":4},"title":"Counts / keV","titleAngle":0,"titleAlign":"left","titleBaseline":"alphabetic","titleX":-30,"titleY":-13,"titleFontSize":20,"titleFontWeight":"normal","titleFont":"DejaVu Sans","titleColor":"#000"}}},
   "layer":[
   {"transform":[{"filter":"datum.s=='b'"}],"mark":{"type":"line","clip":true,"color":"#1aa094","strokeWidth":1.6,"strokeDash":[5,3]}},
   {"transform":[{"filter":"datum.s=='h'"}],"mark":{"type":"line","clip":true,"interpolate":"step-after","color":"#000","strokeWidth":1.4}},
   {"transform":[{"filter":"datum.s=='f'"}],"mark":{"type":"line","clip":true,"interpolate":"monotone","color":"#1aa094","strokeWidth":2}},
   {"transform":[{"filter":"datum.s=='l'"}],"mark":{"type":"text","align":"left","baseline":"top","dx":4,"dy":1,"color":"#666","fontSize":15},"encoding":{"text":{"field":"t"}}}]},
  {"width":115,"height":115,"data":{"name":"d"},"transform":[{"filter":"datum.p=='a2'"}],
   "encoding":{"x":{"field":"E","type":"quantitative","scale":{"domain":[350,389.5],"nice":false,"zero":false},"axis":null},
   "y":{"field":"v","type":"quantitative","scale":{"domain":[4,34.5],"nice":false,"zero":false},"axis":{"values":[10,20,30],"labelExpr":"indexof([10,30],datum.value)>=0?datum.label:''","tickSize":{"condition":{"test":"indexof([10,30],datum.value)>=0","value":8},"value":4},"title":null}}},
   "layer":[
   {"transform":[{"filter":"datum.s=='b'"}],"mark":{"type":"line","clip":true,"color":"#1aa094","strokeWidth":1.6,"strokeDash":[5,3]}},
   {"transform":[{"filter":"datum.s=='h'"}],"mark":{"type":"line","clip":true,"interpolate":"step-after","color":"#000","strokeWidth":1.4}},
   {"transform":[{"filter":"datum.s=='f'"}],"mark":{"type":"line","clip":true,"interpolate":"monotone","color":"#1aa094","strokeWidth":2}},
   {"transform":[{"filter":"datum.s=='l'"}],"mark":{"type":"text","align":"left","baseline":"top","dx":4,"dy":1,"color":"#666","fontSize":15},"encoding":{"text":{"field":"t"}}}]},
  {"width":115,"height":115,"data":{"name":"d"},"transform":[{"filter":"datum.p=='a3'"}],
   "encoding":{"x":{"field":"E","type":"quantitative","scale":{"domain":[350,389.5],"nice":false,"zero":false},"axis":{"values":[360,380],"offset":18,"tickSize":8,"labelPadding":12,"title":null,"labelFontSize":18}},
   "y":{"field":"v","type":"quantitative","scale":{"domain":[4.1,43.1],"nice":false,"zero":false},"axis":{"values":[10,20,30,40],"labelExpr":"indexof([10,30],datum.value)>=0?datum.label:''","tickSize":{"condition":{"test":"indexof([10,30],datum.value)>=0","value":8},"value":4},"title":null}}},
   "layer":[
   {"transform":[{"filter":"datum.s=='b'"}],"mark":{"type":"line","clip":true,"color":"#1aa094","strokeWidth":1.6,"strokeDash":[5,3]}},
   {"transform":[{"filter":"datum.s=='h'"}],"mark":{"type":"line","clip":true,"interpolate":"step-after","color":"#000","strokeWidth":1.4}},
   {"transform":[{"filter":"datum.s=='f'"}],"mark":{"type":"line","clip":true,"interpolate":"monotone","color":"#1aa094","strokeWidth":2}},
   {"transform":[{"filter":"datum.s=='l'"}],"mark":{"type":"text","align":"left","baseline":"top","dx":4,"dy":1,"color":"#666","fontSize":15},"encoding":{"text":{"field":"t"}}}]}
  ]},
 {"title":{"text":"¹¹¹Ru (γγ)","fontSize":19,"fontWeight":"bold","anchor":"middle","offset":37,"dx":16},
  "bounds":"flush","spacing":11,"resolve":{"scale":{"x":"independent","y":"independent"}},
  "vconcat":[
  {"width":114,"height":115,"data":{"name":"d"},"transform":[{"filter":"datum.p=='b1'"}],
   "encoding":{"x":{"field":"E","type":"quantitative","scale":{"domain":[340.3,369.6],"nice":false,"zero":false},"axis":null},
   "y":{"field":"v","type":"quantitative","scale":{"domain":[-0.4,24.9],"nice":false,"zero":false},"axis":{"values":[0,5,10,15,20],"labelExpr":"indexof([0,20],datum.value)>=0?datum.label:''","tickSize":{"condition":{"test":"indexof([0,20],datum.value)>=0","value":8},"value":4},"title":null}}},
   "layer":[
   {"transform":[{"filter":"datum.s=='b'"}],"mark":{"type":"line","clip":true,"color":"#1aa094","strokeWidth":1.6,"strokeDash":[5,3]}},
   {"transform":[{"filter":"datum.s=='h'"}],"mark":{"type":"line","clip":true,"interpolate":"step-after","color":"#000","strokeWidth":1.4}},
   {"transform":[{"filter":"datum.s=='f'"}],"mark":{"type":"line","clip":true,"interpolate":"monotone","color":"#1aa094","strokeWidth":2}},
   {"transform":[{"filter":"datum.s=='l'"}],"mark":{"type":"text","align":"left","baseline":"top","dx":4,"dy":1,"color":"#666","fontSize":15},"encoding":{"text":{"field":"t"}}}]},
  {"width":114,"height":115,"data":{"name":"d"},"transform":[{"filter":"datum.p=='b2'"}],
   "encoding":{"x":{"field":"E","type":"quantitative","scale":{"domain":[340.3,369.6],"nice":false,"zero":false},"axis":null},
   "y":{"field":"v","type":"quantitative","scale":{"domain":[-0.45,25.3],"nice":false,"zero":false},"axis":{"values":[0,5,10,15,20,25],"labelExpr":"indexof([0,20],datum.value)>=0?datum.label:''","tickSize":{"condition":{"test":"indexof([0,20],datum.value)>=0","value":8},"value":4},"title":null}}},
   "layer":[
   {"transform":[{"filter":"datum.s=='b'"}],"mark":{"type":"line","clip":true,"color":"#1aa094","strokeWidth":1.6,"strokeDash":[5,3]}},
   {"transform":[{"filter":"datum.s=='h'"}],"mark":{"type":"line","clip":true,"interpolate":"step-after","color":"#000","strokeWidth":1.4}},
   {"transform":[{"filter":"datum.s=='f'"}],"mark":{"type":"line","clip":true,"interpolate":"monotone","color":"#1aa094","strokeWidth":2}},
   {"transform":[{"filter":"datum.s=='l'"}],"mark":{"type":"text","align":"left","baseline":"top","dx":4,"dy":1,"color":"#666","fontSize":15},"encoding":{"text":{"field":"t"}}}]},
  {"width":114,"height":115,"data":{"name":"d"},"transform":[{"filter":"datum.p=='b3'"}],
   "encoding":{"x":{"field":"E","type":"quantitative","scale":{"domain":[340.3,369.6],"nice":false,"zero":false},"axis":{"values":[350,360],"offset":18,"tickSize":8,"labelPadding":12,"title":null,"labelFontSize":18}},
   "y":{"field":"v","type":"quantitative","scale":{"domain":[-0.1,23.9],"nice":false,"zero":false},"axis":{"values":[0,5,10,15,20],"labelExpr":"indexof([0,20],datum.value)>=0?datum.label:''","tickSize":{"condition":{"test":"indexof([0,20],datum.value)>=0","value":8},"value":4},"title":null}}},
   "layer":[
   {"transform":[{"filter":"datum.s=='b'"}],"mark":{"type":"line","clip":true,"color":"#1aa094","strokeWidth":1.6,"strokeDash":[5,3]}},
   {"transform":[{"filter":"datum.s=='h'"}],"mark":{"type":"line","clip":true,"interpolate":"step-after","color":"#000","strokeWidth":1.4}},
   {"transform":[{"filter":"datum.s=='f'"}],"mark":{"type":"line","clip":true,"interpolate":"monotone","color":"#1aa094","strokeWidth":2}},
   {"transform":[{"filter":"datum.s=='l'"}],"mark":{"type":"text","align":"left","baseline":"top","dx":4,"dy":1,"color":"#666","fontSize":15},"encoding":{"text":{"field":"t"}}}]}
  ]}
 ]},
{"title":{"text":"19/2⁻ → 15/2⁻","fontSize":21,"fontWeight":"bold","anchor":"middle","offset":14},
 "spacing":2,"resolve":{"scale":{"x":"independent","y":"independent"}},
 "hconcat":[
 {"title":{"text":"¹⁰⁹Ru (γγ)","fontSize":19,"fontWeight":"bold","anchor":"middle","offset":37,"dx":15},
  "bounds":"flush","spacing":11,"resolve":{"scale":{"x":"independent","y":"independent"}},
  "vconcat":[
  {"width":115,"height":115,"data":{"name":"d"},"transform":[{"filter":"datum.p=='c1'"}],
   "encoding":{"x":{"field":"E","type":"quantitative","scale":{"domain":[522.1,555],"nice":false,"zero":false},"axis":null},
   "y":{"field":"v","type":"quantitative","scale":{"domain":[-0.15,16.5],"nice":false,"zero":false},"axis":{"values":[0,2,4,6,8,10,12,14,16],"labelExpr":"indexof([0,10],datum.value)>=0?datum.label:''","tickSize":{"condition":{"test":"indexof([0,10],datum.value)>=0","value":8},"value":4},"title":null}}},
   "layer":[
   {"transform":[{"filter":"datum.s=='b'"}],"mark":{"type":"line","clip":true,"color":"#1aa094","strokeWidth":1.6,"strokeDash":[5,3]}},
   {"transform":[{"filter":"datum.s=='h'"}],"mark":{"type":"line","clip":true,"interpolate":"step-after","color":"#000","strokeWidth":1.4}},
   {"transform":[{"filter":"datum.s=='f'"}],"mark":{"type":"line","clip":true,"interpolate":"monotone","color":"#1aa094","strokeWidth":2}},
   {"transform":[{"filter":"datum.s=='l'"}],"mark":{"type":"text","align":"left","baseline":"top","dx":4,"dy":1,"color":"#666","fontSize":15},"encoding":{"text":{"field":"t"}}}]},
  {"width":115,"height":115,"data":{"name":"d"},"transform":[{"filter":"datum.p=='c2'"}],
   "encoding":{"x":{"field":"E","type":"quantitative","scale":{"domain":[522.1,555],"nice":false,"zero":false},"axis":null},
   "y":{"field":"v","type":"quantitative","scale":{"domain":[-0.14,12],"nice":false,"zero":false},"axis":{"values":[0,2,4,6,8,10,12],"labelExpr":"indexof([0,10],datum.value)>=0?datum.label:''","tickSize":{"condition":{"test":"indexof([0,10],datum.value)>=0","value":8},"value":4},"title":null}}},
   "layer":[
   {"transform":[{"filter":"datum.s=='b'"}],"mark":{"type":"line","clip":true,"color":"#1aa094","strokeWidth":1.6,"strokeDash":[5,3]}},
   {"transform":[{"filter":"datum.s=='h'"}],"mark":{"type":"line","clip":true,"interpolate":"step-after","color":"#000","strokeWidth":1.4}},
   {"transform":[{"filter":"datum.s=='f'"}],"mark":{"type":"line","clip":true,"interpolate":"monotone","color":"#1aa094","strokeWidth":2}},
   {"transform":[{"filter":"datum.s=='l'"}],"mark":{"type":"text","align":"left","baseline":"top","dx":4,"dy":1,"color":"#666","fontSize":15},"encoding":{"text":{"field":"t"}}}]},
  {"width":115,"height":115,"data":{"name":"d"},"transform":[{"filter":"datum.p=='c3'"}],
   "encoding":{"x":{"field":"E","type":"quantitative","scale":{"domain":[522.1,555],"nice":false,"zero":false},"axis":{"values":[525,550],"offset":18,"tickSize":8,"labelPadding":12,"title":null,"labelFontSize":18}},
   "y":{"field":"v","type":"quantitative","scale":{"domain":[0,12.7],"nice":false,"zero":false},"axis":{"values":[0,2,4,6,8,10,12],"labelExpr":"indexof([0,10],datum.value)>=0?datum.label:''","tickSize":{"condition":{"test":"indexof([0,10],datum.value)>=0","value":8},"value":4},"title":null}}},
   "layer":[
   {"transform":[{"filter":"datum.s=='b'"}],"mark":{"type":"line","clip":true,"color":"#1aa094","strokeWidth":1.6,"strokeDash":[5,3]}},
   {"transform":[{"filter":"datum.s=='h'"}],"mark":{"type":"line","clip":true,"interpolate":"step-after","color":"#000","strokeWidth":1.4}},
   {"transform":[{"filter":"datum.s=='f'"}],"mark":{"type":"line","clip":true,"interpolate":"monotone","color":"#1aa094","strokeWidth":2}},
   {"transform":[{"filter":"datum.s=='l'"}],"mark":{"type":"text","align":"left","baseline":"top","dx":4,"dy":1,"color":"#666","fontSize":15},"encoding":{"text":{"field":"t"}}}]}
  ]},
 {"title":{"text":"¹¹¹Ru (γ)","fontSize":19,"fontWeight":"bold","anchor":"middle","offset":37,"dx":20},
  "bounds":"flush","spacing":11,"resolve":{"scale":{"x":"independent","y":"independent"}},
  "vconcat":[
  {"width":115,"height":115,"data":{"name":"d"},"transform":[{"filter":"datum.p=='d1'"}],
   "encoding":{"x":{"field":"E","type":"quantitative","scale":{"domain":[480,539.5],"nice":false,"zero":false},"axis":null},
   "y":{"field":"v","type":"quantitative","scale":{"domain":[307,670],"nice":false,"zero":false},"axis":{"values":[400,500,600],"labelExpr":"indexof([400,600],datum.value)>=0?datum.label:''","tickSize":{"condition":{"test":"indexof([400,600],datum.value)>=0","value":8},"value":4},"title":null}}},
   "layer":[
   {"transform":[{"filter":"datum.s=='b'"}],"mark":{"type":"line","clip":true,"color":"#1aa094","strokeWidth":1.6,"strokeDash":[5,3]}},
   {"transform":[{"filter":"datum.s=='h'"}],"mark":{"type":"line","clip":true,"interpolate":"step-after","color":"#000","strokeWidth":1.4}},
   {"transform":[{"filter":"datum.s=='f'"}],"mark":{"type":"line","clip":true,"interpolate":"monotone","color":"#1aa094","strokeWidth":2}},
   {"transform":[{"filter":"datum.s=='l'"}],"mark":{"type":"text","align":"left","baseline":"top","dx":4,"dy":1,"color":"#666","fontSize":15},"encoding":{"text":{"field":"t"}}}]},
  {"width":115,"height":115,"data":{"name":"d"},"transform":[{"filter":"datum.p=='d2'"}],
   "encoding":{"x":{"field":"E","type":"quantitative","scale":{"domain":[480,539.5],"nice":false,"zero":false},"axis":null},
   "y":{"field":"v","type":"quantitative","scale":{"domain":[248,451],"nice":false,"zero":false},"axis":{"values":[250,300,350,400,450],"labelExpr":"indexof([300,400],datum.value)>=0?datum.label:''","tickSize":{"condition":{"test":"indexof([300,400],datum.value)>=0","value":8},"value":4},"title":null}}},
   "layer":[
   {"transform":[{"filter":"datum.s=='b'"}],"mark":{"type":"line","clip":true,"color":"#1aa094","strokeWidth":1.6,"strokeDash":[5,3]}},
   {"transform":[{"filter":"datum.s=='h'"}],"mark":{"type":"line","clip":true,"interpolate":"step-after","color":"#000","strokeWidth":1.4}},
   {"transform":[{"filter":"datum.s=='f'"}],"mark":{"type":"line","clip":true,"interpolate":"monotone","color":"#1aa094","strokeWidth":2}},
   {"transform":[{"filter":"datum.s=='l'"}],"mark":{"type":"text","align":"left","baseline":"top","dx":4,"dy":1,"color":"#666","fontSize":15},"encoding":{"text":{"field":"t"}}}]},
  {"width":115,"height":115,"data":{"name":"d"},"transform":[{"filter":"datum.p=='d3'"}],
   "encoding":{"x":{"field":"E","type":"quantitative","scale":{"domain":[480,539.5],"nice":false,"zero":false},"axis":{"values":[500,525],"offset":18,"tickSize":8,"labelPadding":12,"title":null,"labelFontSize":18}},
   "y":{"field":"v","type":"quantitative","scale":{"domain":[267,738],"nice":false,"zero":false},"axis":{"values":[300,400,500,600,700],"labelExpr":"indexof([300,600],datum.value)>=0?datum.label:''","tickSize":{"condition":{"test":"indexof([300,600],datum.value)>=0","value":8},"value":4},"title":null}}},
   "layer":[
   {"transform":[{"filter":"datum.s=='b'"}],"mark":{"type":"line","clip":true,"color":"#1aa094","strokeWidth":1.6,"strokeDash":[5,3]}},
   {"transform":[{"filter":"datum.s=='h'"}],"mark":{"type":"line","clip":true,"interpolate":"step-after","color":"#000","strokeWidth":1.4}},
   {"transform":[{"filter":"datum.s=='f'"}],"mark":{"type":"line","clip":true,"interpolate":"monotone","color":"#1aa094","strokeWidth":2}},
   {"transform":[{"filter":"datum.s=='l'"}],"mark":{"type":"text","align":"left","baseline":"top","dx":4,"dy":1,"color":"#666","fontSize":15},"encoding":{"text":{"field":"t"}}}]}
  ]}
 ]}
]
}
